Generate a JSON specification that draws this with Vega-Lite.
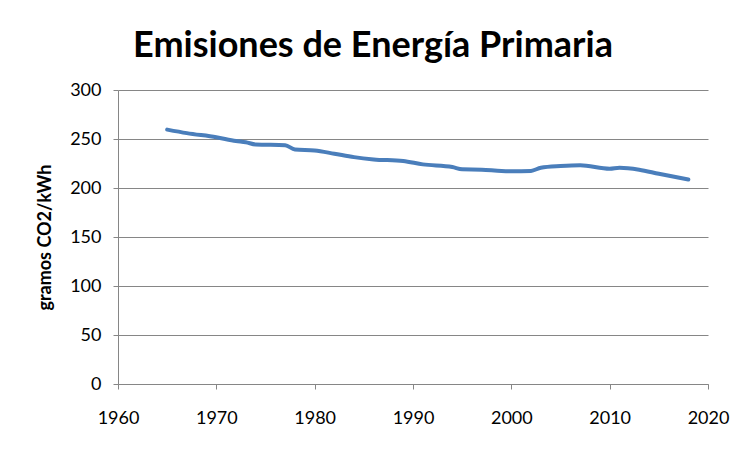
{
  "$schema": "https://vega.github.io/schema/vega-lite/v6.json",
  "width": 590,
  "height": 294,
  "autosize": {"type": "none"},
  "padding": {"left": 118, "top": 90, "right": 45, "bottom": 69},
  "background": "white",
  "title": {
    "text": "Emisiones de Energía Primaria",
    "font": "Lato",
    "fontSize": 36,
    "fontWeight": "bold",
    "color": "black",
    "anchor": "middle",
    "dx": -40,
    "dy": 44,
    "baseline": "alphabetic",
    "offset": 32
  },
  "config": {
    "view": {"stroke": null},
    "axis": {
      "labelFont": "Lato",
      "labelFontSize": 18,
      "labelColor": "black",
      "titleFont": "Lato",
      "titleColor": "black",
      "domainColor": "#868686",
      "tickColor": "#868686",
      "gridColor": "#868686",
      "gridOpacity": 1,
      "domainWidth": 1,
      "tickSize": 5
    }
  },
  "data": {
    "values": [
      {"year": 1965, "value": 259.6},
      {"year": 1967, "value": 256},
      {"year": 1970, "value": 251.8},
      {"year": 1972, "value": 248},
      {"year": 1973, "value": 246.7},
      {"year": 1974, "value": 244.5},
      {"year": 1977, "value": 243.7},
      {"year": 1978, "value": 239.3},
      {"year": 1980, "value": 238.3},
      {"year": 1982, "value": 235},
      {"year": 1984, "value": 231.5},
      {"year": 1986, "value": 229.2},
      {"year": 1989, "value": 227.5},
      {"year": 1991, "value": 224.1},
      {"year": 1994, "value": 221.4},
      {"year": 1995, "value": 219.1},
      {"year": 1997, "value": 218.7},
      {"year": 1999, "value": 217.3},
      {"year": 2000, "value": 217.1},
      {"year": 2002, "value": 217.4},
      {"year": 2003, "value": 220.7},
      {"year": 2005, "value": 222.4},
      {"year": 2007, "value": 223.2},
      {"year": 2010, "value": 219.7},
      {"year": 2011, "value": 220.7},
      {"year": 2013, "value": 218.7},
      {"year": 2015, "value": 214.5},
      {"year": 2018, "value": 208.6}
    ]
  },
  "mark": {"type": "line", "color": "#4a7ebb", "strokeWidth": 4, "interpolate": "monotone", "strokeCap": "round"},
  "encoding": {
    "x": {
      "field": "year",
      "type": "quantitative",
      "scale": {"domain": [1960, 2020], "nice": false, "zero": false},
      "axis": {
        "title": null,
        "values": [1960, 1970, 1980, 1990, 2000, 2010, 2020],
        "format": "d",
        "grid": false,
        "labelPadding": 20,
        "labelFlush": false
      }
    },
    "y": {
      "field": "value",
      "type": "quantitative",
      "scale": {"domain": [0, 300], "nice": false},
      "axis": {
        "title": "gramos CO2/kWh",
        "titleFontSize": 18,
        "titleFontWeight": "bold",
        "titleX": -73,
        "titleY": 147,
        "titleAlign": "center",
        "titleBaseline": "middle",
        "titleAngle": -90,
        "values": [0, 50, 100, 150, 200, 250, 300],
        "labelPadding": 12,
        "grid": true
      }
    }
  }
}
